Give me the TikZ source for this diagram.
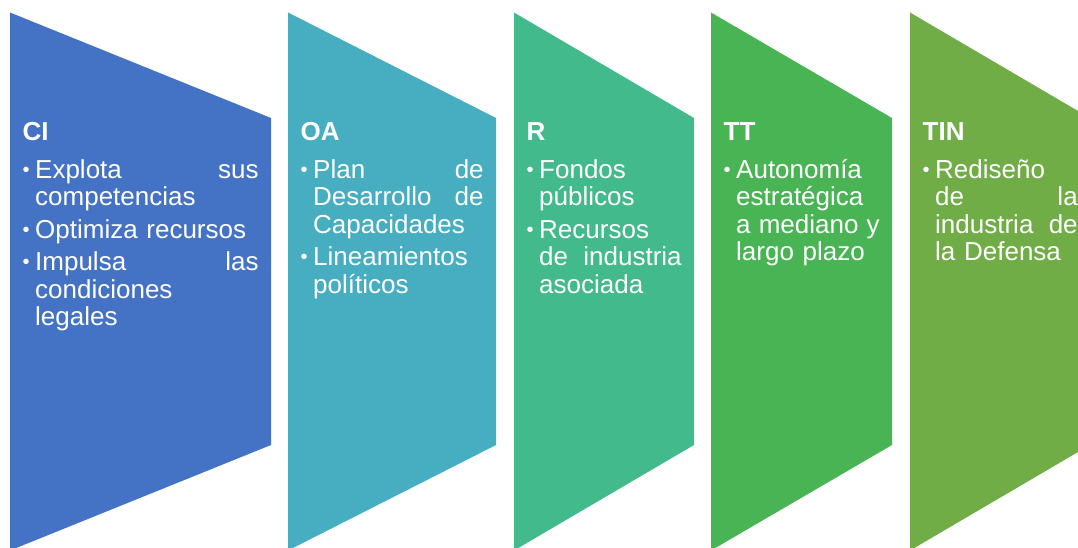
\documentclass[tikz,border=0pt]{standalone}
\usepackage{fontspec}
\setmainfont{Liberation Sans}
\definecolor{cA}{HTML}{4472C4}
\definecolor{cB}{HTML}{46AEC0}
\definecolor{cC}{HTML}{43BA8B}
\definecolor{cD}{HTML}{48B453}
\definecolor{cE}{HTML}{70AD47}
\newcommand{\bulletmark}{\makebox[12.5pt][l]{\raisebox{2pt}{\fontsize{20}{20}\selectfont •}}}
\newcommand{\contind}{\hspace*{12.5pt}}
\tikzset{
  panel/.style={draw=none},
  ttl/.style={anchor=base west, inner sep=0pt, text=white, font=\fontsize{26}{28}\selectfont\bfseries},
  bdy/.style={anchor=base west, inner sep=0pt, text=white, align=left,
    font=\fontsize{26}{27.5}\selectfont},
}
\begin{document}
\begin{tikzpicture}[x=1pt,y=-1pt]
\path[use as bounding box] (0,0) rectangle (1078,548);
\begin{scope}
\clip (0,0) rectangle (1078,548);
% panels
\fill[cA] (10,12.5) -- (271,118) -- (271,445) -- (10,550.5) -- cycle;
\fill[cB] (288,12.5) -- (496,118) -- (496,445) -- (288,550.5) -- cycle;
\fill[cC] (514,12.5) -- (694,118) -- (694,445) -- (514,550.5) -- cycle;
\fill[cD] (711,12.5) -- (892,118) -- (892,445) -- (711,550.5) -- cycle;
\fill[cE] (910,12.5) -- (1090,118) -- (1090,445) -- (910,550.5) -- cycle;
% titles
\node[ttl] (t1) at (22.5,141) {CI};
\node[ttl] (t2) at (300.5,141) {OA};
\node[ttl] (t3) at (526.5,141) {R};
\node[ttl] (t4) at (723.5,141) {TT};
\node[ttl] (t5) at (922.5,141) {TIN};
% bodies
\node[bdy, text width=236pt] (b1) at (22.5,178.3) {%
\bulletmark Explota\hfill sus\\
\contind competencias\\[5pt]
\bulletmark Optimiza recursos\\[5pt]
\bulletmark Impulsa\hfill las\\
\contind condiciones\\
\contind legales};
\node[bdy, text width=183pt] (b2) at (300.5,178.3) {%
\bulletmark Plan\hfill de\\
\contind Desarrollo\hfill de\\
\contind Capacidades\\[5pt]
\bulletmark Lineamientos\\
\contind políticos};
\node[bdy, text width=155pt] (b3) at (526.5,178.3) {%
\bulletmark Fondos\\
\contind públicos\\[5pt]
\bulletmark Recursos\\
\contind de\hfill industria\\
\contind asociada};
\node[bdy, text width=156pt] (b4) at (723.5,178.3) {%
\bulletmark Autonomía\\
\contind estratégica\\
\contind a\hfill mediano\hfill y\\
\contind largo plazo};
\node[bdy, text width=155pt] (b5) at (922.5,178.3) {%
\bulletmark Rediseño\\
\contind de\hfill la\\
\contind industria\hfill de\\
\contind la Defensa};
\end{scope}
\end{tikzpicture}
\end{document}
